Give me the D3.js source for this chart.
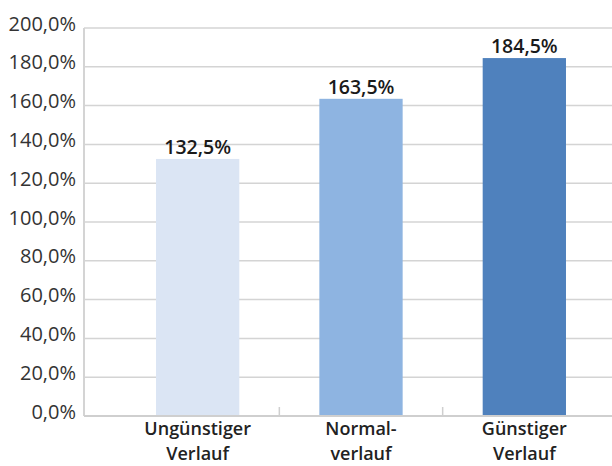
<!DOCTYPE html>
<html>
<head>
<meta charset="utf-8">
<script src="https://cdn.jsdelivr.net/npm/d3@7"></script>
<style>
  html, body { margin: 0; padding: 0; background: #fff; }
  svg { display: block; font-family: "Open Sans", "Noto Sans", sans-serif; }
</style>
</head>
<body>
<svg id="chart" width="612" height="466"></svg>
<script>
// Scenario outcomes (percent)
const categories = [["Ungünstiger", "Verlauf"], ["Normal-", "verlauf"], ["Günstiger", "Verlauf"]];
const values = [132.5, 163.5, 184.5];
const valueLabels = ["132,5%", "163,5%", "184,5%"];
const tickValues = [0, 20, 40, 60, 80, 100, 120, 140, 160, 180, 200];
const tickLabels = ["0,0%", "20,0%", "40,0%", "60,0%", "80,0%", "100,0%", "120,0%", "140,0%", "160,0%", "180,0%", "200,0%"];
const barColors = ["#dbe5f4", "#8eb4e1", "#4f81bd"];

const svg = d3.select("#chart");
const plotLeft = 84, plotRight = 612, plotTop = 28, plotBottom = 416;

const y = d3.scaleLinear().domain([0, 200]).range([plotBottom, plotTop]);
const x = d3.scaleBand()
  .domain(categories.map((c, i) => i))
  .range([116, 606])
  .paddingInner(0.49)
  .paddingOuter(0.245);

// Horizontal gridlines
svg.append("g")
  .selectAll("line")
  .data(tickValues)
  .join("line")
  .attr("x1", plotLeft)
  .attr("x2", plotRight)
  .attr("y1", d => y(d))
  .attr("y2", d => y(d))
  .attr("stroke", "#d4d4d4")
  .attr("stroke-width", 1.5);

// Left axis line
svg.append("line")
  .attr("x1", plotLeft).attr("x2", plotLeft)
  .attr("y1", plotTop).attr("y2", plotBottom)
  .attr("stroke", "#d4d4d4").attr("stroke-width", 2);

// Y tick labels
const yAxis = d3.axisLeft(y)
  .tickValues(tickValues)
  .tickFormat((d, i) => tickLabels[i])
  .tickSize(0)
  .tickPadding(8);
const yg = svg.append("g").attr("transform", `translate(${plotLeft},0)`).call(yAxis);
yg.select(".domain").remove();
yg.selectAll("text")
  .attr("font-size", 20)
  .attr("fill", "#333")
  .attr("dy", "0.1em")
  .style("font-family", "'Open Sans', 'Noto Sans', sans-serif");

// Bars
svg.append("g")
  .selectAll("rect")
  .data(values)
  .join("rect")
  .attr("x", (d, i) => x(i))
  .attr("width", x.bandwidth())
  .attr("y", d => y(d))
  .attr("height", d => y(0) - y(d))
  .attr("fill", (d, i) => barColors[i]);

// Bottom axis line and category separators
svg.append("line")
  .attr("x1", plotLeft).attr("x2", plotRight)
  .attr("y1", plotBottom).attr("y2", plotBottom)
  .attr("stroke", "#cfcfcf").attr("stroke-width", 2);

const separators = categories.slice(1).map((c, i) => x(i + 1) - x.step() * x.paddingInner() / 2);
svg.append("g")
  .selectAll("line")
  .data(separators)
  .join("line")
  .attr("x1", d => d).attr("x2", d => d)
  .attr("y1", plotBottom - 9).attr("y2", plotBottom)
  .attr("stroke", "#cfcfcf").attr("stroke-width", 1.5);

// Value labels
svg.append("g")
  .selectAll("text")
  .data(values)
  .join("text")
  .attr("x", (d, i) => x(i) + x.bandwidth() / 2)
  .attr("y", d => y(d) - 5)
  .attr("text-anchor", "middle")
  .attr("font-size", 19.5)
  .attr("font-weight", 600)
  .attr("fill", "#1a1a1a")
  .text((d, i) => valueLabels[i]);

// Category labels
const cat = svg.append("g")
  .selectAll("text")
  .data(categories)
  .join("text")
  .attr("x", (d, i) => x(i) + x.bandwidth() / 2)
  .attr("y", 435)
  .attr("text-anchor", "middle")
  .attr("font-size", 18)
  .attr("font-weight", 600)
  .attr("fill", "#222");
cat.selectAll("tspan")
  .data(d => d)
  .join("tspan")
  .attr("x", function () { return d3.select(this.parentNode).attr("x"); })
  .attr("dy", (d, j) => j === 0 ? 0 : 25)
  .text(d => d);
</script>
</body>
</html>
